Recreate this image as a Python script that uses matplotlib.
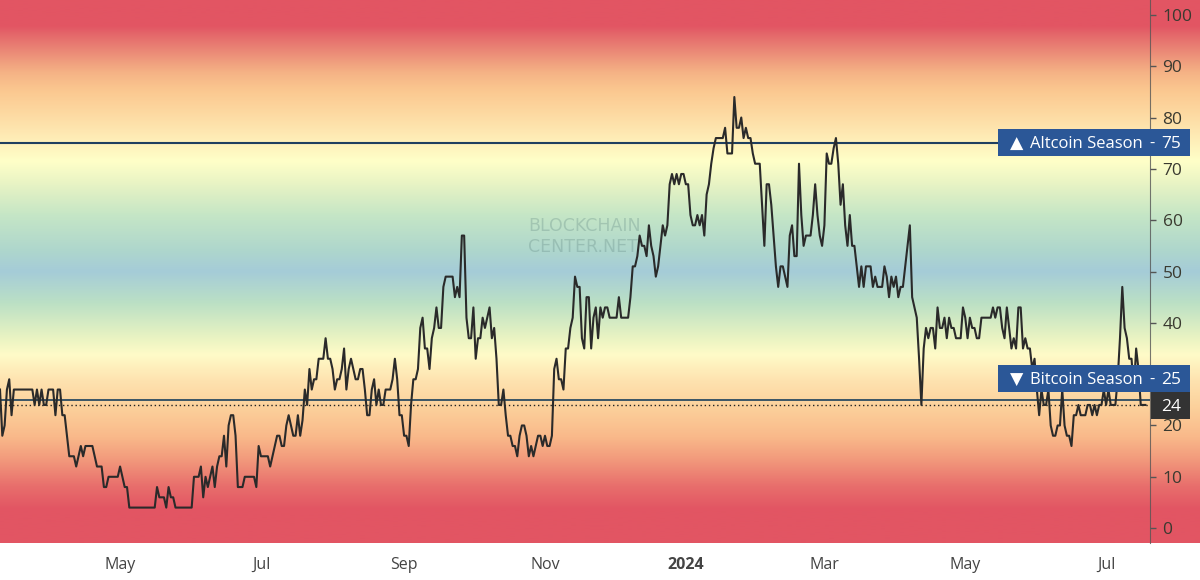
import matplotlib
matplotlib.use('Agg')
import matplotlib.pyplot as plt
from matplotlib.colors import LinearSegmentedColormap
from matplotlib.patches import Rectangle
import numpy as np
import pandas as pd

# index values, one per day, split in four stretches
values_a = [27, 18, 20, 27, 29, 22, 27, 27, 27, 27, 27, 27, 27, 27, 27, 24, 27, 24, 27, 24, 24, 27, 27, 27, 22,
            27, 27, 22, 22, 18, 14, 14, 14, 12, 14, 16, 14, 16, 16, 16, 16, 14, 12, 12, 12, 8, 8, 10, 10, 10,
            10, 10, 12, 10, 8, 8, 4, 4, 4, 4, 4, 4, 4, 4, 4, 4, 4, 4, 8, 6, 6, 6, 4, 8, 6, 6, 4, 4, 4, 4,
            4, 4, 4, 4, 10, 10, 10, 12, 6, 10, 8, 10, 12, 8, 12, 14, 14, 18, 12, 20, 22, 22, 18, 8, 8, 8, 10,
            10, 10, 10, 10, 8, 16, 14, 14, 14, 14, 12, 14, 16, 18, 18, 16, 16, 20, 22, 20, 18, 18, 22]
values_b = [18, 21, 27, 24, 31, 27, 29, 29, 33, 33, 33, 37, 33, 33, 31, 27, 29, 29, 31, 35, 27, 31, 33, 31, 29,
            29, 31, 31, 27, 22, 22, 27, 29, 24, 27, 24, 24, 27, 27, 27, 29, 33, 29, 22, 22, 18, 18, 16, 24, 29,
            29, 31, 39, 41, 35, 35, 31, 37, 39, 43, 39, 39, 47, 49, 49, 49, 49, 45, 47, 45, 57, 57, 41, 37, 37,
            43, 33, 37, 37, 41, 39, 41, 43, 37, 39, 33, 24, 24, 27, 22, 18, 18, 16, 16, 14, 18, 20, 20, 18, 14,
            16, 14, 16, 18, 18, 16, 18, 16, 16, 18, 31, 33, 29, 29, 27, 35, 35, 39, 41, 49, 47, 47, 37, 35, 45,
            45, 35, 41, 43, 37]
values_c = [43, 41, 43, 43, 41, 41, 41, 41, 45, 41, 41, 41, 41, 45, 51, 51, 53, 57, 55, 55, 53, 59, 55, 53, 49,
            51, 55, 59, 57, 59, 67, 69, 67, 69, 67, 69, 69, 67, 67, 61, 59, 59, 61, 59, 61, 57, 65, 67, 71, 74,
            76, 76, 76, 76, 78, 73, 73, 73, 84, 78, 78, 80, 76, 78, 76, 76, 73, 71, 71, 71, 63, 55, 67, 67, 63,
            57, 51, 47, 51, 51, 49, 47, 57, 59, 53, 53, 71, 61, 55, 57, 57, 57, 61, 67, 61, 57, 55, 59, 73, 71,
            71, 74, 76, 71, 63, 67, 59, 55, 61, 55, 55, 51, 47, 51, 47, 51, 51, 51, 47, 49, 47, 47, 47, 51, 49,
            45, 49, 47, 49, 45, 47, 47, 51, 55, 59]
values_d = [45, 43, 41, 33, 24, 35, 39, 37, 39, 39, 35, 43, 39, 39, 41, 37, 41, 39, 39, 37, 37, 37, 43, 41, 37,
            41, 39, 39, 37, 37, 41, 41, 41, 41, 41, 43, 41, 43, 43, 39, 37, 43, 39, 35, 37, 35, 43, 43, 35, 37,
            35, 35, 31, 33, 27, 22, 27, 24, 24, 27, 20, 18, 18, 20, 20, 27, 20, 18, 18, 16, 22, 22, 24, 22, 22,
            22, 24, 24, 22, 24, 22, 24, 24, 27, 24, 27, 24, 24, 24, 29, 37, 47, 39, 37, 33, 33, 27, 35, 31, 24,
            24, 24]

values = values_a + values_b + values_c + values_d
dates = pd.date_range('2023-03-10', periods=len(values), freq='D')

y_ticks = [0, 10, 20, 30, 40, 50, 60, 70, 80, 90, 100]
y_tick_labels = ['0', '10', '20', '', '40', '50', '60', '70', '80', '90', '100']
month_ticks = ['2023-05-01', '2023-07-01', '2023-09-01', '2023-11-01', '2024-01-01', '2024-03-01', '2024-05-01', '2024-07-01']
month_labels = ['May', 'Jul', 'Sep', 'Nov', '2024', 'Mar', 'May', 'Jul']

# gradient stops, value / colour
stop_values = [-3, 3.5, 8, 13.3, 17.7, 23, 28.8, 33.7, 37.2, 43.9, 50, 54, 61, 67, 71.7, 77.6, 81.5, 85.4, 89, 93, 96.5, 98, 103]
stop_colors = ['#e25563', '#e25563', '#e86e6c', '#f29a7c', '#f9b98a', '#fccf9a', '#fee3b0', '#fffbc8', '#e8f3c2',
               '#bbe0c5', '#a5ccd8', '#aed6cd', '#c5e6c6', '#e7f3c4', '#ffffc8', '#fee6b0', '#fdd79f', '#fbc890',
               '#f5b285', '#eb8a77', '#e4666a', '#e25563', '#e25563']

plt.rcParams['font.family'] = ['Open Sans', 'DejaVu Sans']
W, H = 1200, 580
fig = plt.figure(figsize=(W / 100, H / 100), dpi=100, facecolor='white')

# background runs under the price scale as well
bg = fig.add_axes([0, 37 / H, 1, 543 / H])
bg.axis('off')
cmap = LinearSegmentedColormap.from_list(
    'season', [((v + 3) / 106, c) for v, c in zip(stop_values, stop_colors)], N=512)
bg.imshow(np.linspace(1, 0, 512).reshape(-1, 1), aspect='auto', cmap=cmap, vmin=0, vmax=1,
          extent=[0, 1, 0, 1], interpolation='bilinear')

ax = fig.add_axes([0, 37 / H, 1150 / W, 543 / H])
ax.patch.set_alpha(0)
ax.set_ylim(-2.9, 102.9)
ax.set_xlim(pd.Timestamp('2023-03-10'), pd.Timestamp('2023-03-10') + pd.Timedelta(days=498))

# watermark sits under the line
fig.text(528 / W, 1 - 226 / H, 'BLOCKCHAIN', family='DejaVu Sans', fontsize=12.5,
         color='#5f8580', alpha=0.3, va='center', zorder=1)
fig.text(528 / W, 1 - 247 / H, 'CENTER.NET', family='DejaVu Sans', fontsize=12.5,
         color='#5f8580', alpha=0.3, va='center', zorder=1)

ax.axhline(75, color='#1f3f5f', lw=1.5, zorder=2)
ax.axhline(25, color='#3a5566', lw=1.4, zorder=2)
ax.axhline(24, color='#222222', lw=1, ls=(0, (1, 2)), zorder=2)
ax.plot(dates, values, color='#2a2a2a', lw=1.5, zorder=3)

for s in ['top', 'left', 'bottom']:
    ax.spines[s].set_visible(False)
ax.spines['right'].set_color('#555555')
ax.spines['right'].set_alpha(0.8)
ax.yaxis.tick_right()
ax.set_yticks(y_ticks)
ax.set_yticklabels(y_tick_labels)
ax.tick_params(axis='y', length=4, width=1, color='#555555', labelsize=12.5, pad=5, labelcolor='#3a3a30')
ax.set_xticks(pd.to_datetime(month_ticks))
ax.set_xticklabels(month_labels)
ax.tick_params(axis='x', length=0, labelsize=11.5, pad=10, labelcolor='#444444')
ax.get_xticklabels()[4].set_fontweight('bold')


def label_box(x0, y0, x1, y1, color):
    fig.add_artist(Rectangle((x0 / W, 1 - y1 / H), (x1 - x0) / W, (y1 - y0) / H, transform=fig.transFigure,
                             facecolor=color, edgecolor='none', zorder=5))


def label_text(x, y, s, **kw):
    fig.text(x / W, 1 - y / H, s, color='white', va='center', zorder=6, **kw)


label_box(998, 129, 1190, 156, '#2b5797')
label_text(1010, 144, '▲', fontsize=12.5, family='DejaVu Sans')
label_text(1030, 144.5, 'Altcoin Season', fontsize=12)
label_text(1149, 144, '-', fontsize=12)
label_text(1161, 144.5, '75', fontsize=12.5)

label_box(998, 365, 1190, 392, '#2b5797')
label_text(1010, 380, '▼', fontsize=12.5, family='DejaVu Sans')
label_text(1030, 380.5, 'Bitcoin Season', fontsize=12)
label_text(1149, 380, '-', fontsize=12)
label_text(1161, 380.5, '25', fontsize=12.5)

label_box(1151, 392, 1190, 419, '#333333')
label_text(1161, 407, '24', fontsize=12.5)

fig.savefig('out.png', dpi=100)
